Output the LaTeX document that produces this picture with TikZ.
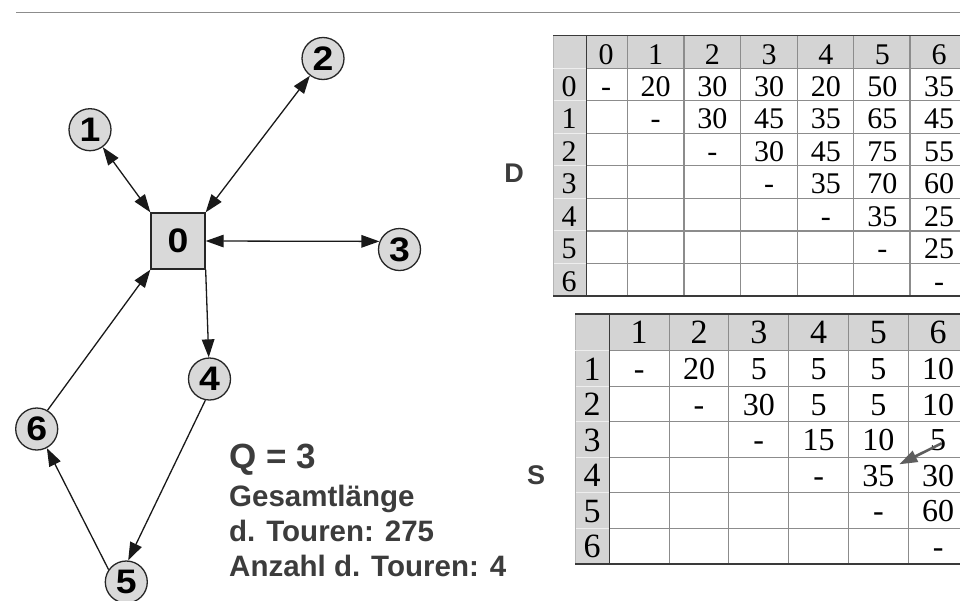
\documentclass[tikz,border=0pt]{standalone}
\usepackage{fontspec}
\setmainfont{Liberation Serif}
\newfontfamily\sansB{Liberation Sans}
\newfontfamily\digB[FakeStretch=1.1]{Liberation Sans}
\newfontfamily\tabf{Liberation Serif}
\usetikzlibrary{arrows.meta}
\definecolor{nodefill}{HTML}{D9D9D9}
\definecolor{hdrfill}{HTML}{D4D4D4}
\definecolor{gridc}{HTML}{8C8C8C}
\definecolor{darkgrid}{HTML}{3A3A3A}
\definecolor{lightgrid}{HTML}{EEEEEE}
\definecolor{outerc}{HTML}{B4B4B4}
\definecolor{txtgray}{HTML}{3C3C3C}
\definecolor{topline}{HTML}{8C8C8C}
\definecolor{annot}{HTML}{5E5E5E}
\tikzset{
  >={Triangle[length=18pt,width=12.5pt]},
  circnode/.style={circle, draw=black!85, line width=1.3pt, fill=nodefill, minimum size=42pt, inner sep=0pt,
    font=\digB\bfseries\fontsize{34}{34}\selectfont},
  boxnode/.style={rectangle, draw=black!85, line width=1.3pt, fill=nodefill, minimum width=54pt, minimum height=56pt, inner sep=0pt,
    font=\digB\bfseries\fontsize{34}{34}\selectfont},
  edgeline/.style={line width=1.3pt, black!90},
  infotext/.style={anchor=base west, inner sep=0pt, text=txtgray, font=\sansB\bfseries\fontsize{29.5}{29.5}\selectfont},
  bigtext/.style={anchor=base west, inner sep=0pt, text=txtgray, font=\sansB\bfseries\fontsize{35}{35}\selectfont},
  tablabel/.style={inner sep=0pt, text=txtgray, font=\sansB\bfseries\fontsize{27}{27}\selectfont},
  dcell/.style={anchor=base, inner sep=0pt, font=\tabf\fontsize{30}{30}\selectfont},
  dhead/.style={anchor=base, inner sep=0pt, font=\tabf\fontsize{30}{30}\selectfont},
  scell/.style={anchor=base, inner sep=0pt, font=\tabf\fontsize{32}{32}\selectfont},
  shead/.style={anchor=base, inner sep=0pt, font=\tabf\fontsize{34}{34}\selectfont},
  gridline/.style={line width=1.1pt, gridc},
  annotarrow/.style={line width=2.6pt, annot, -{Triangle[length=18pt,width=12pt]}}
}
\begin{document}
\begin{tikzpicture}[x=1pt,y=-1pt]
\fill[white] (0,0) rectangle (960,600);
\useasboundingbox (0,0) rectangle (960,600);
% top rule
\draw[topline, line width=1.6pt] (16,12.5) -- (960,12.5);

% ---------------- graph ----------------
\node[boxnode] (n0) at (178,241) {0};
\node[circnode] (n1) at (90,129.7) {1};
\node[circnode] (n2) at (323,58.5) {2};
\node[circnode] (n3) at (399.5,249.5) {3};
\node[circnode] (n4) at (209.5,379) {4};
\node[circnode] (n5) at (126.3,582) {5};
\node[circnode] (n6) at (36.7,429) {6};

\draw[edgeline,<->] (n1) -- (n0.north west);
\draw[edgeline,<->] (n2) -- (n0.north east);
\draw[edgeline,<->] (n0.east) -- (n3.158);
\draw[edgeline,->] (n0.south east) -- (n4);
\draw[edgeline,->] (n4.259) -- (n5.85);
\draw[edgeline,->] (n5.145) -- (n6.298);
\draw[edgeline,->] (n6.60) -- (n0.south west);

% ---------------- info text ----------------
\node[bigtext] (q) at (229,468) {Q = 3};
\node[infotext] (g) at (229,506.7) {Gesamtlänge};
\node[infotext] (t) at (229,541.7) {d. Touren: 275};
\node[infotext] (a) at (229,576.7) {Anzahl d. Touren: 4};

% ---------------- table D ----------------
\node[tablabel] (labD) at (514,173) {D};
\fill[hdrfill] (553.3,35.3) rectangle (968,68.3);
\fill[hdrfill] (553.3,68.3) rectangle (586.7,296);
\foreach \r in {1,...,6}{
  \pgfmathsetmacro\yy{68.3+32.53*\r}
  \draw[lightgrid, line width=1pt] (553.3,\yy) -- (586.7,\yy);
  \draw[gridline] (586.7,\yy) -- (968,\yy);
}
\foreach \xx in {627.3,684,740.7,797.3,853.3,910}{
  \draw[gridline] (\xx,35.3) -- (\xx,296);
}
\draw[outerc, line width=1pt] (553.3,35.3) -- (553.3,296);
\draw[gridline] (586.7,68.3) -- (968,68.3);
\draw[lightgrid, line width=1pt] (553.3,68.3) -- (586.7,68.3);
\draw[darkgrid, line width=1.2pt] (553.3,35.3) -- (968,35.3);
\draw[darkgrid, line width=1.3pt] (586.7,35.3) -- (586.7,296);
\draw[darkgrid, line width=2pt] (553.3,296) -- (968,296);
\foreach \c in {0,...,6}{
  \pgfmathsetmacro\cx{\c==0 ? 606 : 655.65+56.7*(\c-1)}
  \node[dhead] (dh-\c) at (\cx,64) {\c};
  \pgfmathsetmacro\ry{68.3+32.53*\c+28}
  \node[dhead] (dr-\c) at (569,\ry) {\c};
}
\foreach \r/\vals in {0/{-,20,30,30,20,50,35},1/{-,30,45,35,65,45},2/{-,30,45,75,55},3/{-,35,70,60},4/{-,35,25},5/{-,25},6/{-}}{
  \foreach \v [count=\c from \r] in \vals {
    \pgfmathsetmacro\cx{\c==0 ? 606 : 655.65+56.7*(\c-1)}
    \pgfmathsetmacro\by{68.3+32.53*\r+28}
    \node[dcell] (d-\r-\c) at (\cx,\by) {\v};
  }
}

% ---------------- table S ----------------
\node[tablabel] (labS) at (536,475) {S};
\fill[hdrfill] (575,314) rectangle (970,350.5);
\fill[hdrfill] (575,350.5) rectangle (609.3,564);
\foreach \r in {1,...,5}{
  \pgfmathsetmacro\yy{350.5+35.58*\r}
  \draw[lightgrid, line width=1pt] (575,\yy) -- (609.3,\yy);
  \draw[gridline] (609.3,\yy) -- (970,\yy);
}
\foreach \xx in {669.1,728.9,788.7,848.5,908.3}{
  \draw[gridline] (\xx,314) -- (\xx,564);
}
\draw[outerc, line width=1pt] (575,314) -- (575,564);
\draw[gridline] (609.3,350.5) -- (970,350.5);
\draw[lightgrid, line width=1pt] (575,350.5) -- (609.3,350.5);
\draw[darkgrid, line width=1.2pt] (575,314) -- (970,314);
\draw[darkgrid, line width=1.3pt] (609.3,314) -- (609.3,564);
\draw[darkgrid, line width=2pt] (575,564) -- (970,564);
\foreach \c in {1,...,6}{
  \pgfmathsetmacro\cx{639.2+59.8*(\c-1)}
  \node[shead] (sh-\c) at (\cx,343.5) {\c};
  \pgfmathsetmacro\ry{350.5+35.58*(\c-1)+29.5}
  \node[shead] (sr-\c) at (592.2,\ry) {\c};
}
\foreach \r/\vals in {1/{-,20,5,5,5,10},2/{-,30,5,5,10},3/{-,15,10,5},4/{-,35,30},5/{-,60},6/{-}}{
  \foreach \v [count=\c from \r] in \vals {
    \pgfmathsetmacro\cx{639.2+59.8*(\c-1)}
    \pgfmathsetmacro\by{350.5+35.58*(\r-1)+29}
    \node[scell] (s-\r-\c) at (\cx,\by) {\v};
  }
}
% annotation arrow
\coordinate (arrStart) at (941.7,443.3);
\coordinate (arrEnd) at (899.3,464.3);
\draw[annotarrow] (arrStart) -- (arrEnd);
\end{tikzpicture}
\end{document}
